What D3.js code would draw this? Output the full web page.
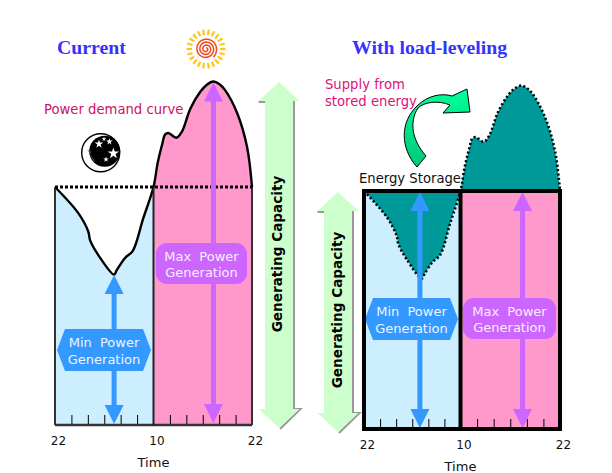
<!DOCTYPE html>
<html>
<head>
<meta charset="utf-8">
<script src="https://cdn.jsdelivr.net/npm/d3@7"></script>
<style>
  html, body { margin: 0; padding: 0; background: #fff; }
  svg { display: block; }
  text { font-family: "DejaVu Sans", sans-serif; }
</style>
</head>
<body>
<svg id="chart" width="612" height="473"></svg>
<script>
// hours since 22:00
var hours = [0, 2.84, 4.06, 4.27, 5.28, 7.2, 7.52, 8.54, 9.48, 10.73, 12, 12.5, 13.1, 13.4, 13.8, 14.8, 15.45, 16.5, 17.7, 18.5, 19.3, 20, 20.7, 22.2, 23.4, 24]
// demand, generating capacity = 100
var demand = [100, 89, 81.2, 77.7, 71.4, 63.2, 65.1, 70.2, 73.2, 86.6, 100, 110, 118.5, 122, 122.7, 120.7, 123.2, 133, 140, 143, 144.3, 143.3, 140.8, 131, 116.8, 100]
var capacity = 100
var minHour = 7.2
var maxHour = 19.3
var tickHours = [2, 4, 6, 8, 10, 14, 16, 18, 20, 22]
var labelHours = [0, 12, 24]
var labelTexts = ['22', '10', '22']

var BLUE = '#3399ff', PURPLE = '#cc66ff', LIGHTBLUE = '#cceeff', PINK = '#ff99cc', TEAL = '#009999', MINT = '#ccffcc'

var svg = d3.select('#chart')
var curve = hours.map(function(h, i) { return {h: h, v: demand[i]} })
var night = curve.filter(function(d) { return d.h <= 12 })
var day = curve.filter(function(d) { return d.h >= 12 })
var smooth = d3.curveCatmullRom.alpha(0.5)

function makePanel(x0, xm, x1, y0, y1) {
  return {
    x: d3.scaleLinear().domain([0, 12, 24]).range([x0, xm, x1]),
    y: d3.scaleLinear().domain([0, capacity]).range([y0, y1])
  }
}

var left = makePanel(55, 153.5, 252, 425, 187)
var right = makePanel(364, 460.5, 560, 429, 191)

function areaUnder(p) {
  return d3.area().curve(smooth)
    .x(function(d) { return p.x(d.h) })
    .y0(p.y(0))
    .y1(function(d) { return p.y(d.v) })
}
function areaToCapacity(p) {
  return d3.area().curve(smooth)
    .x(function(d) { return p.x(d.h) })
    .y0(p.y(capacity))
    .y1(function(d) { return p.y(d.v) })
}
function lineOf(p) {
  return d3.line().curve(smooth)
    .x(function(d) { return p.x(d.h) })
    .y(function(d) { return p.y(d.v) })
}

// time axes: inner ticks and the three labels
function drawAxis(p, labelDy, labelDx) {
  svg.append('g')
    .attr('transform', 'translate(0,' + p.y(0) + ')')
    .call(d3.axisBottom(p.x).tickValues(tickHours).tickSize(-10).tickFormat(''))
    .call(function(g) {
      g.select('.domain').remove()
      g.selectAll('line').attr('stroke', '#000').attr('stroke-width', 1)
    })
  svg.append('g')
    .attr('transform', 'translate(0,' + p.y(0) + ')')
    .call(d3.axisBottom(p.x).tickValues(labelHours).tickSize(0)
      .tickFormat(function(d, i) { return labelTexts[i] }))
    .call(function(g) {
      g.select('.domain').remove()
      g.selectAll('text')
        .attr('dx', labelDx).attr('y', labelDy).attr('dy', 0)
        .attr('fill', '#111')
        .style('font-family', '"DejaVu Sans", sans-serif').style('font-size', '12px')
    })
}

// double headed arrow, shaft through the label
function drawArrow(x, yTop, yBot, color) {
  var w = 9.5, hh = 19, s = 2.5
  svg.append('path')
    .attr('d', d3.line()([
      [x, yTop], [x + w, yTop + hh], [x + s, yTop + hh], [x + s, yBot - hh], [x + w, yBot - hh],
      [x, yBot], [x - w, yBot - hh], [x - s, yBot - hh], [x - s, yTop + hh], [x - w, yTop + hh]
    ]) + 'Z')
    .attr('fill', color)
}

function twoLines(cx, yTop, first, second, fill) {
  var t = svg.append('g').attr('fill', fill).attr('text-anchor', 'middle')
    .style('font-size', '13px')
  t.append('text').attr('x', cx).attr('y', yTop)
    .style('word-spacing', '4px').text(first)
  t.append('text').attr('x', cx).attr('y', yTop + 16.5).text(second)
}

function hexLabel(x0, x1, y0, y1, color) {
  var m = (y0 + y1) / 2
  svg.append('path')
    .attr('d', d3.line()([[x0, m], [x0 + 8, y0], [x1 - 8, y0], [x1, m], [x1 - 8, y1], [x0 + 8, y1]]) + 'Z')
    .attr('fill', color)
  twoLines((x0 + x1) / 2, m - 3, 'Min Power', 'Generation', '#eef4ff')
}

function roundLabel(x0, x1, y0, y1, color) {
  svg.append('rect').attr('x', x0).attr('y', y0).attr('width', x1 - x0).attr('height', y1 - y0)
    .attr('rx', 11).attr('fill', color)
  twoLines((x0 + x1) / 2, (y0 + y1) / 2 - 3, 'Max Power', 'Generation', '#f8eeff')
}

// big green capacity arrow with grey shadow on its right side
function capacityArrow(cx, yTop, yBot, tx, ty) {
  var hw = 20.5, sw = 14, hh = 19
  svg.append('path')
    .attr('d', d3.line()([
      [cx - hw, yTop + hh + 1], [cx + sw + 1, yTop + hh + 1], [cx + sw + 1, yBot - hh],
      [cx + hw + 1, yBot - hh], [cx + 1, yBot + 1]
    ]))
    .attr('fill', 'none').attr('stroke', '#999').attr('stroke-width', 2)
  svg.append('path')
    .attr('d', d3.line()([
      [cx, yTop], [cx + hw, yTop + hh], [cx + sw, yTop + hh], [cx + sw, yBot - hh], [cx + hw, yBot - hh],
      [cx, yBot], [cx - hw, yBot - hh], [cx - sw, yBot - hh], [cx - sw, yTop + hh], [cx - hw, yTop + hh]
    ]) + 'Z')
    .attr('fill', MINT)
  svg.append('text')
    .attr('transform', 'translate(' + tx + ',' + ty + ') rotate(-90)')
    .attr('text-anchor', 'middle')
    .attr('font-weight', 'bold')
    .style('font-size', '13.6px')
    .text('Generating Capacity')
}

function title(x, y, s) {
  svg.append('text').attr('x', x).attr('y', y)
    .attr('fill', '#3333ff').attr('font-weight', 'bold')
    .style('font-family', '"Liberation Serif", serif').style('font-size', '19.8px')
    .text(s)
}

function note(x, y, s, fill) {
  svg.append('text').attr('x', x).attr('y', y).attr('fill', fill).style('font-size', '13.2px').text(s)
}

// ---- left panel: current
svg.append('path').datum(night).attr('d', areaUnder(left)).attr('fill', LIGHTBLUE)
svg.append('path').datum(day).attr('d', areaUnder(left)).attr('fill', PINK)
drawAxis(left, 20, 3)
svg.append('path').datum(curve).attr('d', lineOf(left))
  .attr('fill', 'none').attr('stroke', '#000').attr('stroke-width', 2.4).attr('stroke-linejoin', 'round')
svg.append('path')
  .attr('d', d3.line()([[left.x(0), left.y(0)], [left.x(24), left.y(0)]]))
  .attr('stroke', '#333').attr('stroke-width', 2.4)
svg.append('path')
  .attr('d', d3.line()([[left.x(0), left.y(0)], [left.x(0), left.y(capacity)]]))
  .attr('stroke', '#333').attr('stroke-width', 2)
svg.append('path')
  .attr('d', d3.line()([[left.x(24), left.y(0)], [left.x(24), left.y(capacity)]]))
  .attr('stroke', '#333').attr('stroke-width', 2)
svg.append('path')
  .attr('d', d3.line()([[left.x(12), left.y(0)], [left.x(12), left.y(capacity)]]))
  .attr('stroke', '#222').attr('stroke-width', 2)
svg.append('path')
  .attr('d', d3.line()([[left.x(0), left.y(capacity)], [left.x(24), left.y(capacity)]]))
  .attr('stroke', '#000').attr('stroke-width', 3).attr('stroke-dasharray', '3 2')

drawArrow(left.x(minHour), left.y(63), left.y(0) - 1, BLUE)
drawArrow(left.x(maxHour), left.y(144.3) + 1, left.y(0) - 2, PURPLE)
hexLabel(57, 151, 329, 371, BLUE)
roundLabel(156, 247, 243, 284, PURPLE)

// ---- right panel: with load-leveling
svg.append('rect')
  .attr('x', right.x(0)).attr('y', right.y(capacity))
  .attr('width', right.x(12) - right.x(0)).attr('height', right.y(0) - right.y(capacity))
  .attr('fill', LIGHTBLUE)
svg.append('rect')
  .attr('x', right.x(12)).attr('y', right.y(capacity))
  .attr('width', right.x(24) - right.x(12)).attr('height', right.y(0) - right.y(capacity))
  .attr('fill', PINK)
svg.append('path').datum(night).attr('d', areaToCapacity(right)).attr('fill', TEAL)
svg.append('path').datum(day).attr('d', areaToCapacity(right)).attr('fill', TEAL)
svg.append('path').datum(curve).attr('d', lineOf(right))
  .attr('fill', 'none').attr('stroke', '#000').attr('stroke-width', 2.6).attr('stroke-dasharray', '2 2.4')
drawAxis(right, 20, 3)

drawArrow(right.x(minHour) - 2, right.y(capacity) + 1, right.y(0) - 1, BLUE)
drawArrow(right.x(maxHour) + 1.5, right.y(capacity) + 1, right.y(0) - 1, PURPLE)
hexLabel(365, 458, 298, 340, BLUE)
roundLabel(463, 556, 298, 339, PURPLE)

svg.append('rect')
  .attr('x', right.x(0)).attr('y', right.y(capacity))
  .attr('width', right.x(24) - right.x(0)).attr('height', right.y(0) - right.y(capacity))
  .attr('fill', 'none').attr('stroke', '#000').attr('stroke-width', 4)
svg.append('path')
  .attr('d', d3.line()([[right.x(12), right.y(0)], [right.x(12), right.y(capacity)]]))
  .attr('stroke', '#000').attr('stroke-width', 4)

// ---- capacity arrows
capacityArrow(279, 82, 428, 282, 254)
capacityArrow(338, 192, 432, 342, 310)

// ---- titles and notes
title(57, 54, 'Current')
title(352, 54, 'With load-leveling')
note(44, 114, 'Power demand curve', '#cc1166')
note(325, 89, 'Supply from', '#dd1177')
note(325, 106, 'stored energy', '#dd1177')
note(359, 183, 'Energy Storage', '#111')
svg.append('text').attr('x', left.x(12)).attr('y', 467).attr('text-anchor', 'middle')
  .attr('fill', '#111').style('font-size', '13px').text('Time')
svg.append('text').attr('x', right.x(12)).attr('y', 471).attr('text-anchor', 'middle')
  .attr('fill', '#111').style('font-size', '13px').text('Time')

// ---- green curved arrow
var grad = svg.append('defs').append('linearGradient').attr('id', 'swoop')
  .attr('x1', 0).attr('y1', 0).attr('x2', 0).attr('y2', 1)
grad.append('stop').attr('offset', 0).attr('stop-color', '#00ff99')
grad.append('stop').attr('offset', 1).attr('stop-color', '#00c878')
svg.append('path')
  .attr('d', 'M417,167 C400,148 400,122 417,106 C428,95 442,93 452,96 L467,89 L470,112 L443,113 L450,105 C438,100 424,102 418,108 C409,122 412,140 426,156 Z')
  .attr('fill', 'url(#swoop)').attr('stroke', '#000').attr('stroke-width', 1)

// ---- sun
var sun = svg.append('g').attr('transform', 'translate(206,49)')
d3.range(22).forEach(function(i) {
  var a = i * (360 / 22) * Math.PI / 180
  sun.append('line')
    .attr('x1', 14 * Math.cos(a)).attr('y1', 14 * Math.sin(a))
    .attr('x2', 19.5 * Math.cos(a)).attr('y2', 19.5 * Math.sin(a))
    .attr('stroke', '#ffc61a').attr('stroke-width', 2.2)
})
sun.append('path')
  .attr('d', d3.lineRadial()(d3.range(0, 60).map(function(i) {
    return [i * 0.36, 1 + i * 0.17]
  })))
  .attr('fill', 'none').attr('stroke', '#f04a20').attr('stroke-width', 1.5)

// ---- moon
var moon = svg.append('g').attr('transform', 'translate(100.7,152.7)')
moon.append('circle').attr('r', 19).attr('fill', '#fff').attr('stroke', '#000').attr('stroke-width', 1.4)
moon.append('circle').attr('cx', 4).attr('cy', -1.5).attr('r', 15.5).attr('fill', '#000')
moon.append('path').attr('d', 'M-13,-2 l3,1 l-1,3 l2,2 l3,5').attr('fill', 'none').attr('stroke', '#555').attr('stroke-width', 0.9)
var star = d3.symbol().type(d3.symbolStar)
var stars = [[12.7, 0.7, 40], [-1.7, -8.7, 23], [3.3, -13.7, 7], [8.7, -11, 14], [5.3, 6.7, 10]]
stars.forEach(function(s) {
  moon.append('path').attr('transform', 'translate(' + s[0] + ',' + s[1] + ')')
    .attr('d', star.size(s[2])()).attr('fill', '#fff')
})
</script>
</body>
</html>
